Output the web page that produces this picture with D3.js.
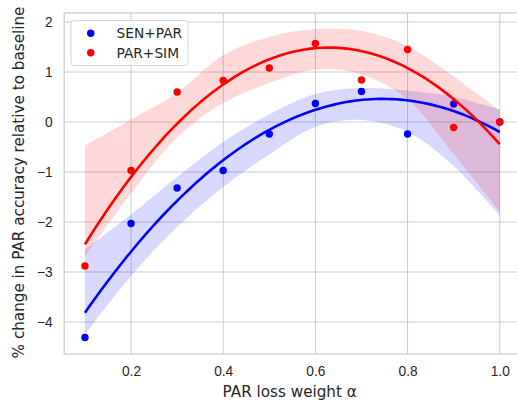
<!DOCTYPE html>
<html>
<head>
<meta charset="utf-8">
<script src="https://cdn.jsdelivr.net/npm/d3@7"></script>
<style>
  body { margin: 0; background: #fff; }
  svg { display: block; font-family: "DejaVu Sans", sans-serif; }
  .grid line { stroke: #cccccc; stroke-width: 1; }
  .tick text { fill: #262626; }
</style>
</head>
<body>
<div id="chart-area"></div>
<script>

// alpha values (x) shared by both runs
var alphas = [0.1, 0.2, 0.3, 0.4, 0.5, 0.6, 0.7, 0.8, 0.9, 1.0];

// % change in PAR accuracy relative to baseline
var senPar = [-4.31, -2.03, -1.32, -0.97, -0.24, 0.37, 0.61, -0.24, 0.36, 0.0];
var parSim = [-2.88, -0.97, 0.60, 0.83, 1.08, 1.57, 0.84, 1.45, -0.11, 0.0];

// confidence band edges (bootstrap, so not symmetric)
var senParLo = [-4.25, -3.08, -2.10, -1.30, -0.65, -0.10, 0.04, -0.20, -0.88, -1.88];
var senParHi = [-2.55, -1.85, -1.10, -0.40, 0.15, 0.56, 0.68, 0.63, 0.50, 0.25];
var parSimLo = [-2.69, -1.43, -0.31, 0.38, 0.78, 1.05, 0.95, 0.45, -0.64, -1.80];
var parSimHi = [-0.47, 0.05, 0.58, 1.34, 1.70, 1.86, 1.82, 1.52, 0.91, 0.23];

var xTicks = [0.2, 0.4, 0.6, 0.8, 1.0];
var yTicks = [-4, -3, -2, -1, 0, 1, 2];

var series = [
    {name: "SEN+PAR", color: "#0000ff", y: senPar, lo: senParLo, hi: senParHi},
    {name: "PAR+SIM", color: "#ff0000", y: parSim, lo: parSimLo, hi: parSimHi}
];

var W = 517, H = 403;
var pLeft = 64.2, pRight = 520.5, pTop = 13, pBottom = 354;

var svg = d3.select("#chart-area")
    .append("svg")
        .attr("width", W)
        .attr("height", H);

var x = d3.scaleLinear().domain([0.055, 1.045]).range([pLeft, pRight]);
var y = d3.scaleLinear().domain([-4.64, 2.18]).range([pBottom, pTop]);

// grid
var grid = svg.append("g").attr("class", "grid");
grid.selectAll(".gx").data(xTicks).enter().append("line")
    .attr("x1", function (d) { return x(d); })
    .attr("x2", function (d) { return x(d); })
    .attr("y1", pTop).attr("y2", pBottom);
grid.selectAll(".gy").data(yTicks).enter().append("line")
    .attr("y1", function (d) { return y(d); })
    .attr("y2", function (d) { return y(d); })
    .attr("x1", pLeft).attr("x2", pRight);

// X axis (no tick marks, seaborn whitegrid)
var xAxis = svg.append("g")
    .attr("transform", "translate(0," + pBottom + ")")
    .call(d3.axisBottom(x).tickValues(xTicks).tickFormat(d3.format(".1f")).tickSize(0).tickPadding(12.5));
xAxis.select(".domain").remove();
xAxis.selectAll("text").attr("font-size", "13.75px");

// Y axis
var yAxis = svg.append("g")
    .attr("transform", "translate(" + pLeft + ",0)")
    .call(d3.axisLeft(y).tickValues(yTicks).tickFormat(d3.format("d")).tickSize(0).tickPadding(11.5));
yAxis.select(".domain").remove();
yAxis.selectAll("text").attr("font-size", "13.75px");

// quadratic least-squares fit (seaborn regplot order=2)
function quadFit(xs, ys) {
    var s = [0, 0, 0, 0, 0], t = [0, 0, 0];
    xs.forEach(function (xv, i) {
        for (var k = 0; k < 5; k++) s[k] += Math.pow(xv, k);
        for (var k2 = 0; k2 < 3; k2++) t[k2] += Math.pow(xv, k2) * ys[i];
    });
    var A = [[s[0], s[1], s[2], t[0]], [s[1], s[2], s[3], t[1]], [s[2], s[3], s[4], t[2]]];
    for (var c = 0; c < 3; c++) {
        for (var r = c + 1; r < 3; r++) {
            var f = A[r][c] / A[c][c];
            for (var j = c; j < 4; j++) A[r][j] -= f * A[c][j];
        }
    }
    var b = [0, 0, 0];
    for (var r2 = 2; r2 >= 0; r2--) {
        var v = A[r2][3];
        for (var j2 = r2 + 1; j2 < 3; j2++) v -= A[r2][j2] * b[j2];
        b[r2] = v / A[r2][r2];
    }
    return function (xv) { return b[0] + b[1] * xv + b[2] * xv * xv; };
}

var band = d3.area()
    .curve(d3.curveCatmullRom)
    .x(function (d) { return x(d.x); })
    .y0(function (d) { return y(d.lo); })
    .y1(function (d) { return y(d.hi); });

var line = d3.line()
    .x(function (d) { return x(d[0]); })
    .y(function (d) { return y(d[1]); });

var gridX = d3.range(0, 101).map(function (i) { return 0.1 + i * 0.009; });

// collections first (scatter + band), lines on top as in matplotlib
var marks = svg.append("g");
var lines = svg.append("g");

series.forEach(function (s) {
    marks.selectAll(null).data(alphas).enter().append("circle")
        .attr("cx", function (d) { return x(d); })
        .attr("cy", function (d, i) { return y(s.y[i]); })
        .attr("r", 3.7)
        .attr("fill", s.color);

    var bandData = alphas.map(function (a, i) { return {x: a, lo: s.lo[i], hi: s.hi[i]}; });
    marks.append("path")
        .attr("d", band(bandData))
        .attr("fill", s.color)
        .attr("fill-opacity", 0.15);

    var fit = quadFit(alphas, s.y);
    lines.append("path")
        .attr("d", line(gridX.map(function (a) { return [a, fit(a)]; })))
        .attr("fill", "none")
        .attr("stroke", s.color)
        .attr("stroke-width", 2.6);
});

// frame
svg.append("rect")
    .attr("x", pLeft).attr("y", pTop)
    .attr("width", pRight - pLeft).attr("height", pBottom - pTop)
    .attr("fill", "none")
    .attr("stroke", "#cccccc")
    .attr("stroke-width", 1.25);

// legend
var legend = svg.append("g");
legend.append("rect")
    .attr("x", 71).attr("y", 20.5)
    .attr("width", 117).attr("height", 45)
    .attr("rx", 3)
    .attr("fill", "#fff").attr("fill-opacity", 0.8)
    .attr("stroke", "#d6d6d6");
series.forEach(function (s, i) {
    var ly = 33.3 + i * 19.4;
    legend.append("circle")
        .attr("cx", 90.7).attr("cy", ly).attr("r", 3.7)
        .attr("fill", s.color);
    legend.append("text")
        .attr("x", 116.5).attr("y", ly)
        .attr("dy", "0.35em")
        .attr("font-size", "13.75px")
        .attr("fill", "#262626")
        .text(s.name);
});

// axis labels
svg.append("text")
    .attr("x", 289.7)
    .attr("y", 396.5)
    .attr("text-anchor", "middle")
    .attr("font-size", "15.2px")
    .attr("fill", "#262626")
    .text("PAR loss weight α");

svg.append("text")
    .attr("transform", "translate(23.5,182.5) rotate(-90)")
    .attr("text-anchor", "middle")
    .attr("font-size", "15.2px")
    .attr("fill", "#262626")
    .text("% change in PAR accuracy relative to baseline");

</script>
</body>
</html>
